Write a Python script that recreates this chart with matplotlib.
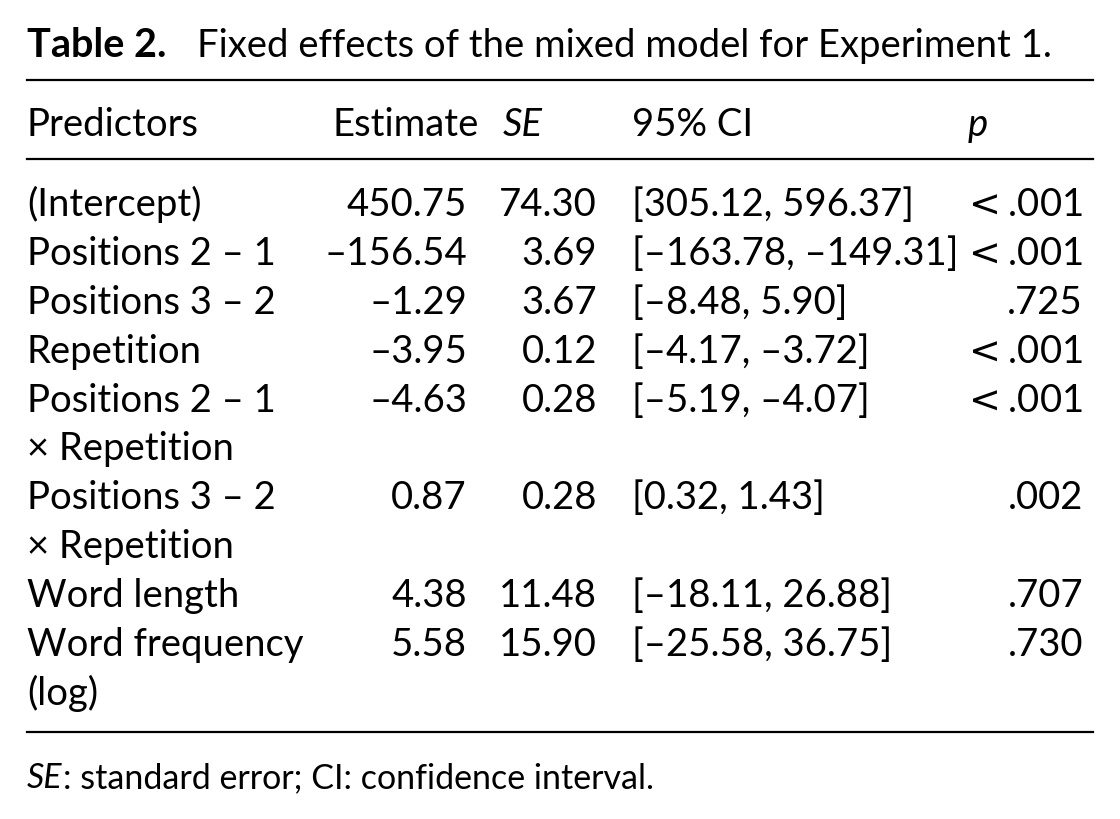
import matplotlib
matplotlib.use("Agg")
import matplotlib.pyplot as plt

plt.rcParams['font.family'] = ['Lato', 'DejaVu Sans']

# table content
headers = ["Predictors", "Estimate", "SE", "95% CI", "p"]
predictors = ["(Intercept)", "Positions 2 – 1", "Positions 3 – 2", "Repetition",
              "Positions 2 – 1\n× Repetition", "Positions 3 – 2\n× Repetition",
              "Word length", "Word frequency\n(log)"]
estimates = ["450.75", "–156.54", "–1.29", "–3.95", "–4.63", "0.87", "4.38", "5.58"]
std_errors = ["74.30", "3.69", "3.67", "0.12", "0.28", "0.28", "11.48", "15.90"]
conf_ints = ["[305.12, 596.37]", "[–163.78, –149.31]", "[–8.48, 5.90]", "[–4.17, –3.72]",
             "[–5.19, –4.07]", "[0.32, 1.43]", "[–18.11, 26.88]", "[–25.58, 36.75]"]
p_values = ["$<$.001", "$<$.001", ".725", "$<$.001", "$<$.001", ".002", ".707", ".730"]

title_bold = "Table 2."
title_rest = "Fixed effects of the mixed model for Experiment 1."
note_italic = "SE"
note_rest = ": standard error; CI: confidence interval."

fig = plt.figure(figsize=(11.2, 8.19), dpi=100)
ax = fig.add_axes([0, 0, 1, 1])
ax.set_xlim(0, 1120)
ax.set_ylim(819, 0)
ax.axis('off')

fs = 27.5
x_left, x_right = 27, 1093

ax.text(x_left, 57, title_bold, fontsize=28.5, fontweight='bold', va='baseline')
ax.text(197, 57, title_rest, fontsize=fs, va='baseline')

for y in (80, 159):
    ax.plot([x_left, x_right], [y, y], color='black', lw=1.6)

hy = 136
ax.text(x_left, hy, headers[0], fontsize=fs, va='baseline')
ax.text(332, hy, headers[1], fontsize=fs, va='baseline')
ax.text(503, hy, headers[2], fontsize=fs, va='baseline', style='italic')
ax.text(632, hy, headers[3], fontsize=fs, va='baseline')
ax.text(968, hy, headers[4], fontsize=fs, va='baseline', style='italic')

line_h = 48.9
y = 216
for pred, est, se, ci, p in zip(predictors, estimates, std_errors, conf_ints, p_values):
    lines = pred.split("\n")
    for i, ln in enumerate(lines):
        ax.text(x_left, y + i * line_h, ln, fontsize=fs, va='baseline')
    ax.text(467, y, est, fontsize=fs, va='baseline', ha='right')
    ax.text(597, y, se, fontsize=fs, va='baseline', ha='right')
    ax.text(632, y, ci, fontsize=fs, va='baseline')
    ax.text(1083, y, p, fontsize=fs, va='baseline', ha='right')
    y += line_h * len(lines)

ax.plot([x_left, x_right], [732, 732], color='black', lw=1.6)

ax.text(x_left, 788, note_italic, fontsize=24.5, va='baseline', style='italic')
ax.text(63, 788, note_rest, fontsize=24.5, va='baseline')

fig.savefig("out.png", dpi=100, facecolor='white')
